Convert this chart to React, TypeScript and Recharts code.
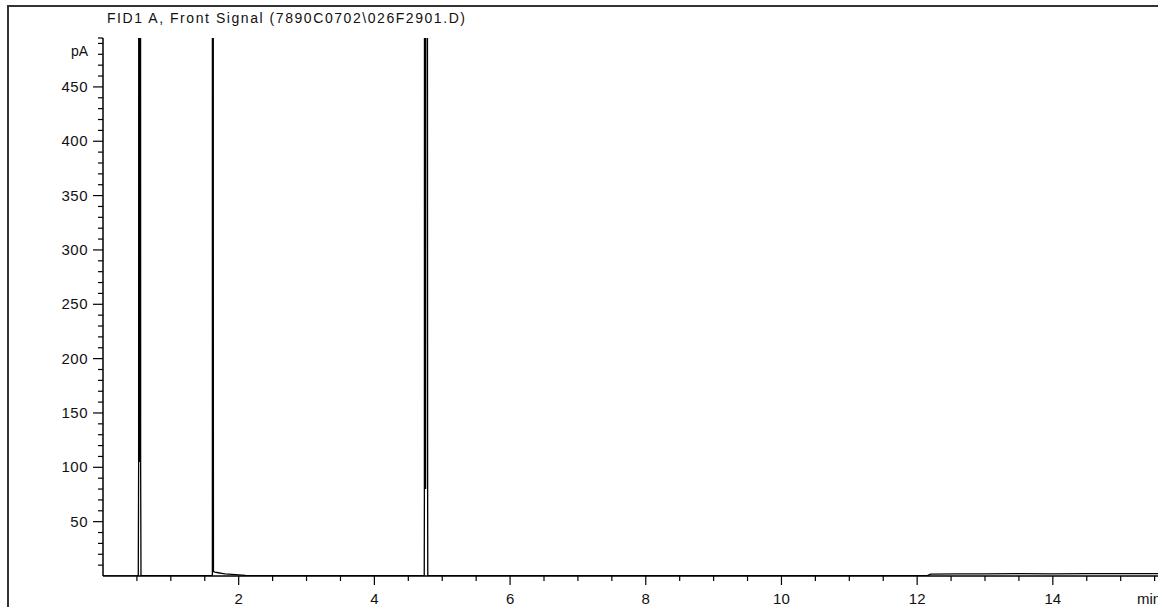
import { LineChart, Line, XAxis, YAxis } from 'recharts';

// ---------------------------------------------------------------------------
// Data
// ---------------------------------------------------------------------------

const retentionTime: number[] = [
  0, 0.5, 0.52, 0.525, 0.535, 0.54, 0.545, 0.555, 0.56, 0.6,
  1.0, 1.5, 1.6, 1.612, 1.615, 1.622, 1.626, 1.628, 1.65, 1.7,
  1.75, 1.8, 1.9, 2.0, 2.1, 2.3, 3.0, 4.0, 4.7, 4.735,
  4.737, 4.745, 4.755, 4.765, 4.785, 4.787, 4.8, 6.0, 8.0, 10.0,
  12.15, 12.2, 12.6, 13.0, 13.5, 14.0, 14.5, 15.0, 15.55,
];

const signalPa: number[] = [
  0, 0.3, 0.5, 100, 3000, 105, 3000, 100, 0.5, 0.3,
  0.3, 0.3, 0.5, 1, 5000, 3000, 262, 4, 3.5, 3,
  2.5, 2, 1.5, 1, 0.5, 0.3, 0.3, 0.3, 0.3, 0.5,
  75, 3000, 80, 3000, 75, 0.5, 0.3, 0.3, 0.3, 0.3,
  0.3, 1.8, 2.0, 1.9, 2.1, 2.0, 2.2, 2.1, 2.2,
];

const xTicks: number[] = [
  0.5, 1, 1.5, 2, 2.5, 3, 3.5, 4, 4.5, 5, 5.5, 6, 6.5, 7, 7.5, 8,
  8.5, 9, 9.5, 10, 10.5, 11, 11.5, 12, 12.5, 13, 13.5, 14, 14.5, 15, 15.5,
];
const xLabelled: number[] = [2, 4, 6, 8, 10, 12, 14];

const yTicks: number[] = [
  10, 20, 30, 40, 50, 60, 70, 80, 90, 100, 110, 120, 130, 140, 150, 160,
  170, 180, 190, 200, 210, 220, 230, 240, 250, 260, 270, 280, 290, 300,
  310, 320, 330, 340, 350, 360, 370, 380, 390, 400, 410, 420, 430, 440,
  450, 460, 470, 480, 490, 495,
];
const yLabelled: number[] = [50, 100, 150, 200, 250, 300, 350, 400, 450];

const TITLE = 'FID1 A, Front Signal (7890C0702\\026F2901.D)';

// ---------------------------------------------------------------------------
// Layout
// ---------------------------------------------------------------------------

const WIDTH = 1158;
const HEIGHT = 607;
const PLOT_LEFT = 103;
const PLOT_TOP = 38;
const PLOT_BOTTOM = 576;
const FONT = '"Liberation Sans", Arial, sans-serif';

const data = retentionTime.map((t, i) => ({ t, signal: signalPa[i] }));

function XTick({ x, payload }: { x?: number; payload?: { value: number } }) {
  const v = payload?.value ?? 0;
  const major = xLabelled.includes(v);
  return (
    <g>
      <line x1={x} x2={x} y1={PLOT_BOTTOM} y2={PLOT_BOTTOM + (major ? 9 : 5)} stroke="#000" strokeWidth={1.2} />
      {major && (
        <text x={x} y={604} textAnchor="middle" fontSize={15} fontFamily={FONT} fill="#111">
          {v}
        </text>
      )}
      {v === 15.5 && (
        <text x={1137} y={604} textAnchor="start" fontSize={15} fontFamily={FONT} fill="#111">
          min
        </text>
      )}
    </g>
  );
}

function YTick({ y, payload }: { y?: number; payload?: { value: number } }) {
  const v = payload?.value ?? 0;
  const major = yLabelled.includes(v);
  return (
    <g>
      <line x1={PLOT_LEFT - (major ? 10 : 5)} x2={PLOT_LEFT} y1={y} y2={y} stroke="#000" strokeWidth={1.2} />
      {major && (
        <text x={88} y={y} dy={5} textAnchor="end" fontSize={15} fontFamily={FONT} fill="#111" letterSpacing={0.5}>
          {v}
        </text>
      )}
      {v === 495 && (
        <text x={88} y={(y ?? 0) + 18} textAnchor="end" fontSize={14} fontFamily={FONT} fill="#111">
          pA
        </text>
      )}
    </g>
  );
}

export default function App() {
  return (
    <div style={{ position: 'relative', width: WIDTH, height: HEIGHT, background: '#fff', overflow: 'hidden' }}>
      <style>{'body{margin:0}'}</style>

      {/* outer frame */}
      <div
        style={{
          position: 'absolute',
          left: 7,
          top: 5,
          width: WIDTH,
          height: HEIGHT,
          borderLeft: '2px solid #333',
          borderTop: '2px solid #333',
        }}
      />

      <svg width={WIDTH} height={30} style={{ position: 'absolute', left: 0, top: 0 }}>
        <text x={107} y={23} fontSize={14} fontFamily={FONT} fill="#111" textLength={358} lengthAdjust="spacing">
          {TITLE}
        </text>
      </svg>

      <div style={{ position: 'absolute', left: 0, top: 0 }}>
        <LineChart
          width={WIDTH}
          height={HEIGHT}
          data={data}
          margin={{ top: PLOT_TOP, right: 0, bottom: 0, left: 0 }}
        >
          <XAxis
            dataKey="t"
            type="number"
            domain={[0, 15.55]}
            allowDataOverflow
            ticks={xTicks}
            interval={0}
            tickLine={false}
            tick={<XTick />}
            height={HEIGHT - PLOT_BOTTOM}
            axisLine={{ stroke: '#000', strokeWidth: 1.5 }}
          />
          <YAxis
            type="number"
            domain={[0, 495]}
            allowDataOverflow
            ticks={yTicks}
            interval={0}
            tickLine={false}
            tick={<YTick />}
            width={PLOT_LEFT}
            axisLine={{ stroke: '#000', strokeWidth: 1.5 }}
          />
          <Line
            type="linear"
            dataKey="signal"
            stroke="#000"
            strokeWidth={1.3}
            dot={false}
            isAnimationActive={false}
          />
        </LineChart>
      </div>
    </div>
  );
}
